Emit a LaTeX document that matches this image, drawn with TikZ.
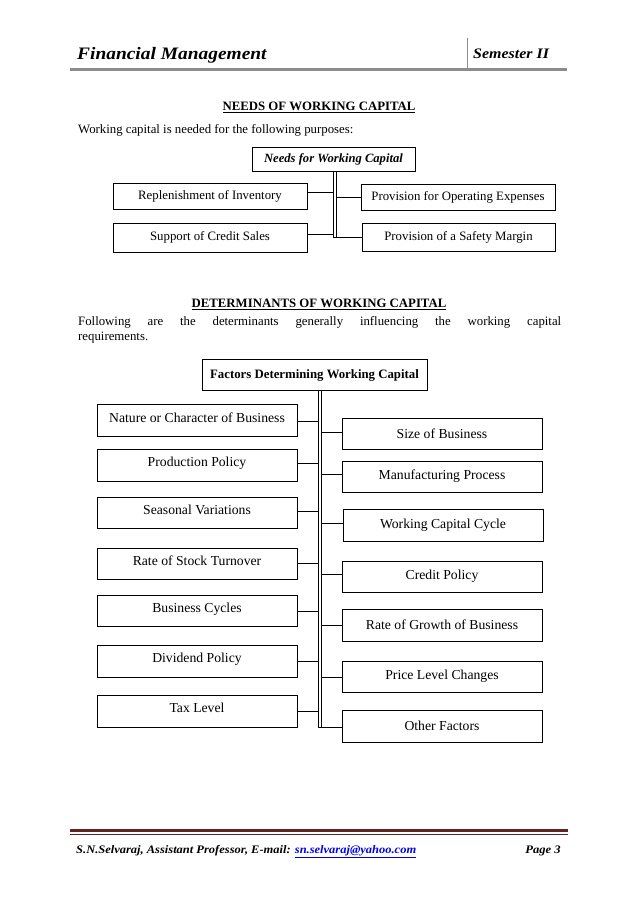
\documentclass[tikz,border=0pt]{standalone}
\usepackage{fontspec}
\setmainfont{Liberation Serif}
\newfontfamily\hdrfont{Liberation Serif}
\definecolor{footred}{HTML}{622423}
\definecolor{hdrgray}{HTML}{8C8C8C}
\definecolor{maillink}{HTML}{0000EE}
\begin{document}
\begin{tikzpicture}[x=1pt,y=-1pt,
  box/.style={draw,line width=0.7pt,inner sep=0pt,align=center,font=\fontsize{13.7}{15}\selectfont},
  nbox/.style={box,font=\fontsize{12.8}{14}\selectfont},
  lbox/.style={box,minimum width=200pt,minimum height=32pt,text depth=6pt},
  rbox/.style={box,minimum width=200pt,minimum height=32pt},
  bus/.style={line width=0.7pt},
  txt/.style={inner sep=0pt,anchor=west,font=\fontsize{12.8}{14}\selectfont},
  ttl/.style={inner sep=0pt,font=\bfseries\fontsize{12.8}{15}\selectfont}
]
\useasboundingbox[fill=white] (0,0) rectangle (638,902);
% header
\node[inner sep=0pt,anchor=base west,font=\hdrfont\bfseries\itshape\fontsize{17.5}{19}\selectfont] (hl) at (77,59) {\scalebox{1.11}[1]{Financial Management}};
\node[inner sep=0pt,anchor=base west,font=\hdrfont\bfseries\itshape\fontsize{14.5}{16}\selectfont] (hr) at (473,58) {\scalebox{1.1}[1]{Semester II}};
\draw[hdrgray,line width=2.2pt] (70,69.5) -- (567,69.5);
\draw[hdrgray,line width=0.9pt] (467,38) -- (467,69);
% footer
\draw[footred,line width=2.6pt] (70,830.5) -- (568,830.5);
\draw[footred,line width=0.6pt] (70,834) -- (568,834);
\node[inner sep=0pt,anchor=base west,font=\hdrfont\bfseries\itshape\fontsize{11.5}{13}\selectfont] (fl) at (76,853) {\scalebox{1.085}[1]{S.N.Selvaraj, Assistant Professor, E-mail: \textcolor{maillink}{\underline{sn.selvaraj@yahoo.com}}}};
\node[inner sep=0pt,anchor=base east,font=\hdrfont\bfseries\itshape\fontsize{11.5}{13}\selectfont] (fr) at (561,853) {\scalebox{1.1}[1]{Page 3}};
% section 1
\node[ttl] (t1) at (319,107.5) {\underline{NEEDS OF WORKING CAPITAL}};
\node[txt] (p1) at (78,130) {Working capital is needed for the following purposes:};
\node[nbox,font=\bfseries\itshape\fontsize{12.6}{14}\selectfont,minimum width=163pt,minimum height=24pt] (nw) at (333.5,159.5) {Needs for Working Capital};
\node[nbox,minimum width=194pt,minimum height=26pt] (rep) at (210,196) {Replenishment of Inventory};
\node[nbox,minimum width=194pt,minimum height=29pt] (sup) at (210,237.5) {Support of Credit Sales};
\node[nbox,minimum width=194pt,minimum height=26pt] (poe) at (458,197) {Provision for Operating Expenses};
\node[nbox,minimum width=193pt,minimum height=28pt] (psm) at (458.5,237) {Provision of a Safety Margin};
\coordinate (na) at (333,192);
\coordinate (nb) at (333,234);
\coordinate (nc) at (336,197);
\coordinate (nd) at (336,237);
\draw[bus] (nw.south -| na) -- (333,237) -- (nd);
\draw[bus] (nw.south -| nc) -- (nd);
\draw[bus] (rep.east |- na) -- (na);
\draw[bus] (sup.east |- nb) -- (nb);
\draw[bus] (nc) -- (poe.west |- nc);
\draw[bus] (nd) -- (psm.west |- nd);
% section 2
\node[ttl] (t2) at (319,304) {\underline{DETERMINANTS OF WORKING CAPITAL}};
\node[txt,text width=483pt,align=left,anchor=north west] (p2) at (78,316) {\hbox to 483pt{Following\hfill are\hfill the\hfill determinants\hfill generally\hfill influencing\hfill the\hfill working\hfill capital}\\[1pt]requirements.};
\node[box,font=\bfseries\fontsize{12.8}{14}\selectfont,minimum width=225pt,minimum height=31pt] (fd) at (314.5,375) {Factors Determining Working Capital};
\coordinate (busl) at (318,727);
\coordinate (busr) at (321,727);
\draw[bus] (fd.south -| busl) -- (busl) -- (busr);
\draw[bus] (fd.south -| busr) -- (busr);
% left
\node[lbox] (l1) at (197,420.5) {Nature or Character of Business};
\node[lbox] (l2) at (197,465) {Production Policy};
\node[lbox,minimum height=31pt] (l3) at (197,512.5) {Seasonal Variations};
\node[lbox,minimum height=31pt] (l4) at (197,563.5) {Rate of Stock Turnover};
\node[lbox,minimum height=31pt] (l5) at (197,610.5) {Business Cycles};
\node[lbox] (l6) at (197,661) {Dividend Policy};
\node[lbox] (l7) at (197,711) {Tax Level};
\coordinate (a1) at (318,421);
\coordinate (a2) at (318,463);
\coordinate (a3) at (318,511);
\coordinate (a4) at (318,563);
\coordinate (a5) at (318,611);
\coordinate (a6) at (318,661);
\coordinate (a7) at (318,711);
\foreach \i in {1,...,7} {\draw[bus] (l\i.east |- a\i) -- (a\i);}
% right
\node[rbox,minimum height=31pt] (r1) at (442,433.5) {Size of Business};
\node[rbox,minimum height=31pt] (r2) at (442,476.5) {Manufacturing Process};
\node[rbox] (r3) at (443,525) {Working Capital Cycle};
\node[rbox,minimum height=31pt] (r4) at (442,576.5) {Credit Policy};
\node[rbox] (r5) at (442,625) {Rate of Growth of Business};
\node[rbox,minimum height=31pt] (r6) at (442,676.5) {Price Level Changes};
\node[rbox] (r7) at (442,726) {Other Factors};
\coordinate (b1) at (321,432);
\coordinate (b2) at (321,474);
\coordinate (b3) at (321,523);
\coordinate (b4) at (321,574);
\coordinate (b5) at (321,625);
\coordinate (b6) at (321,677);
\coordinate (b7) at (321,727);
\foreach \i in {1,...,7} {\draw[bus] (b\i) -- (r\i.west |- b\i);}
\end{tikzpicture}
\end{document}
